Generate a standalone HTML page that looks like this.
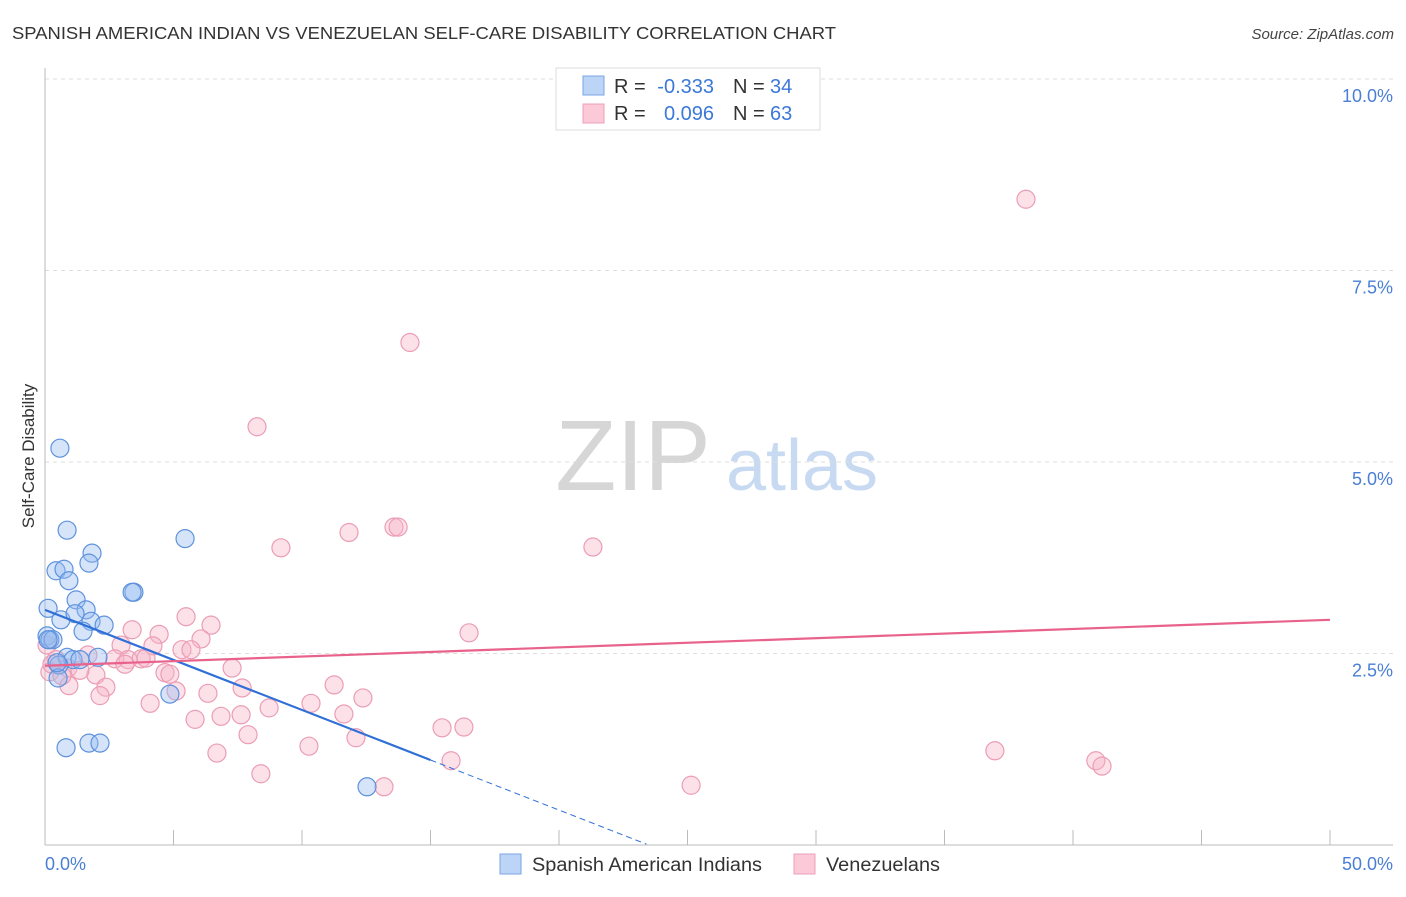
<!DOCTYPE html>
<html><head><meta charset="utf-8"><style>
body{margin:0;background:#fff;font-family:"Liberation Sans",sans-serif;}
svg text{font-family:"Liberation Sans",sans-serif;}
</style></head><body>
<svg width="1406" height="892" viewBox="0 0 1406 892" xmlns="http://www.w3.org/2000/svg">
<text x="12" y="39" font-size="17.5" fill="#333" textLength="824" lengthAdjust="spacingAndGlyphs">SPANISH AMERICAN INDIAN VS VENEZUELAN SELF-CARE DISABILITY CORRELATION CHART</text>
<text x="1394" y="39" font-size="15" fill="#444" text-anchor="end" font-style="italic">Source: ZipAtlas.com</text>
<g>
<text x="633" y="490" font-size="100" fill="#d6d6d6" text-anchor="middle" font-family="Liberation Serif, serif">ZIP</text>
<text x="802" y="490" font-size="72" fill="#c8daf2" text-anchor="middle">atlas</text>
</g>
<g id="grid"></g>
<g id="axes"></g>
<g id="marks"></g>
<text transform="translate(34,456) rotate(-90)" font-size="17" fill="#333" text-anchor="middle">Self-Care Disability</text>
<text x="45" y="870" font-size="18" fill="#4a7fd4">0.0%</text>
<text x="1393" y="870" font-size="18" fill="#4a7fd4" text-anchor="end">50.0%</text>
<g>
<rect x="556" y="68" width="264" height="62" fill="#fff" stroke="#ddd"/>
<rect x="583" y="76" width="21" height="19" fill="#bcd4f6" stroke="#7aa5e3"/>
<rect x="583" y="104" width="21" height="19" fill="#fbc9d7" stroke="#eda0b8"/>
<text x="614" y="93" font-size="20" fill="#333">R =</text>
<text x="714" y="93" font-size="20" fill="#3b78d8" text-anchor="end">-0.333</text>
<text x="733" y="93" font-size="20" fill="#333">N =</text>
<text x="770" y="93" font-size="20" fill="#3b78d8">34</text>
<text x="614" y="120" font-size="20" fill="#333">R =</text>
<text x="714" y="120" font-size="20" fill="#3b78d8" text-anchor="end">0.096</text>
<text x="733" y="120" font-size="20" fill="#333">N =</text>
<text x="770" y="120" font-size="20" fill="#3b78d8">63</text>
</g>
<g>
<rect x="500" y="854" width="21" height="20" fill="#bcd4f6" stroke="#7aa5e3"/>
<text x="532" y="871" font-size="19" fill="#333" textLength="230" lengthAdjust="spacingAndGlyphs">Spanish American Indians</text>
<rect x="794" y="854" width="21" height="20" fill="#fbc9d7" stroke="#eda0b8"/>
<text x="826" y="871" font-size="19" fill="#333" textLength="114" lengthAdjust="spacingAndGlyphs">Venezuelans</text>
</g>
</svg>
<script>
const yTicks=[2.5,5.0,7.5,10.0];
const yTickLabels=["2.5%","5.0%","7.5%","10.0%"];
const xTicks=[0,5,10,15,20,25,30,35,40,45,50];
const blueX=[.58,.86,5.45,1.83,1.71,.43,.74,.93,3.46,3.39,1.21,.12,1.60,.62,1.17,1.79,2.30,1.48,.08,.19,.31,2.06,.86,1.09,.54,.51,4.86,12.53,.82,1.71,2.14,.47,1.36,.12];
const blueY=[5.18,4.11,4.00,3.81,3.68,3.58,3.60,3.45,3.30,3.30,3.20,3.09,3.07,2.94,3.02,2.92,2.87,2.79,2.73,2.68,2.68,2.45,2.45,2.42,2.35,2.18,1.97,0.76,1.27,1.33,1.33,2.38,2.42,2.68];
const pinkX=[38.17,14.20,8.25,11.83,13.58,13.74,21.32,9.18,5.49,6.46,3.39,4.44,16.50,6.07,2.96,4.20,5.33,5.68,1.67,2.72,3.23,3.74,3.93,7.28,4.67,4.86,.43,.89,.19,1.98,.93,2.37,11.25,5.10,6.34,7.67,2.14,12.37,4.09,8.72,10.35,5.84,6.85,7.63,11.63,15.45,16.30,7.90,12.10,10.27,6.69,36.96,15.80,40.89,41.13,8.40,13.19,25.14,.08,.27,.66,1.36,3.11];
const pinkY=[8.43,6.56,5.46,4.08,4.15,4.15,3.89,3.88,2.98,2.87,2.81,2.75,2.77,2.69,2.61,2.60,2.55,2.55,2.48,2.43,2.42,2.43,2.44,2.31,2.25,2.23,2.42,2.31,2.26,2.22,2.08,2.06,2.09,2.01,1.98,2.05,1.95,1.92,1.85,1.79,1.85,1.64,1.68,1.70,1.71,1.53,1.54,1.44,1.40,1.29,1.20,1.23,1.10,1.10,1.03,0.93,0.76,0.78,2.61,2.36,2.21,2.28,2.36];
const blueTrend=[3.07,-0.1307];
const blueSolidEnd=15, blueDashEnd=23.4;
const pinkTrend=[2.34,0.012];
const NS='http://www.w3.org/2000/svg';
const sx=v=>45+v/50*1285;
const sy=v=>845-v/2.5*191.5;
function mk(tag,attrs,parent){const e=document.createElementNS(NS,tag);for(const k in attrs)e.setAttribute(k,attrs[k]);parent.appendChild(e);return e;}
const grid=document.getElementById('grid'),axes=document.getElementById('axes'),marks=document.getElementById('marks');
yTicks.forEach((t,i)=>{
 const l=mk('line',{x1:45,x2:1393,y1:sy(t),y2:sy(t),stroke:'#ddd','stroke-dasharray':'4,4'},grid);
 
 
 const tx=mk('text',{x:1393,y:sy(t)+23,'font-size':18,fill:'#4a7fd4','text-anchor':'end'},axes);
 tx.textContent=yTickLabels[i];
 
 
});
const ya=mk('line',{x1:45,x2:45,y1:68,y2:845,stroke:'#bbb'},axes);


const xa=mk('line',{x1:45,x2:1393,y1:845,y2:845,stroke:'#bbb'},axes);


xTicks.forEach(t=>{
 const l=mk('line',{x1:sx(t),x2:sx(t),y1:830,y2:845,stroke:'#bbb'},axes);
 
 
});
pinkX.forEach((x,i)=>{
 const c=mk('circle',{cx:sx(x),cy:sy(pinkY[i]),r:9,fill:'rgba(248,180,200,0.4)',stroke:'#eb9db6','stroke-width':1.2},marks);
 
 
});
blueX.forEach((x,i)=>{
 const c=mk('circle',{cx:sx(x),cy:sy(blueY[i]),r:9,fill:'rgba(150,188,240,0.4)',stroke:'#5e92dd','stroke-width':1.2},marks);
 
 
});
const bt=x=>blueTrend[0]+blueTrend[1]*x, pt=x=>pinkTrend[0]+pinkTrend[1]*x;
const b1=mk('line',{x1:sx(0),y1:sy(bt(0)),x2:sx(blueSolidEnd),y2:sy(bt(blueSolidEnd)),stroke:'#2f6fd6','stroke-width':2.2},marks);


const b2=mk('line',{x1:sx(blueSolidEnd),y1:sy(bt(blueSolidEnd)),x2:sx(blueDashEnd),y2:sy(bt(blueDashEnd)),stroke:'#2f6fd6','stroke-width':1,'stroke-dasharray':'6,4'},marks);


const p1=mk('line',{x1:sx(0),y1:sy(pt(0)),x2:sx(50),y2:sy(pt(50)),stroke:'#e8628c','stroke-width':2.2},marks);


</script>
</body></html>
